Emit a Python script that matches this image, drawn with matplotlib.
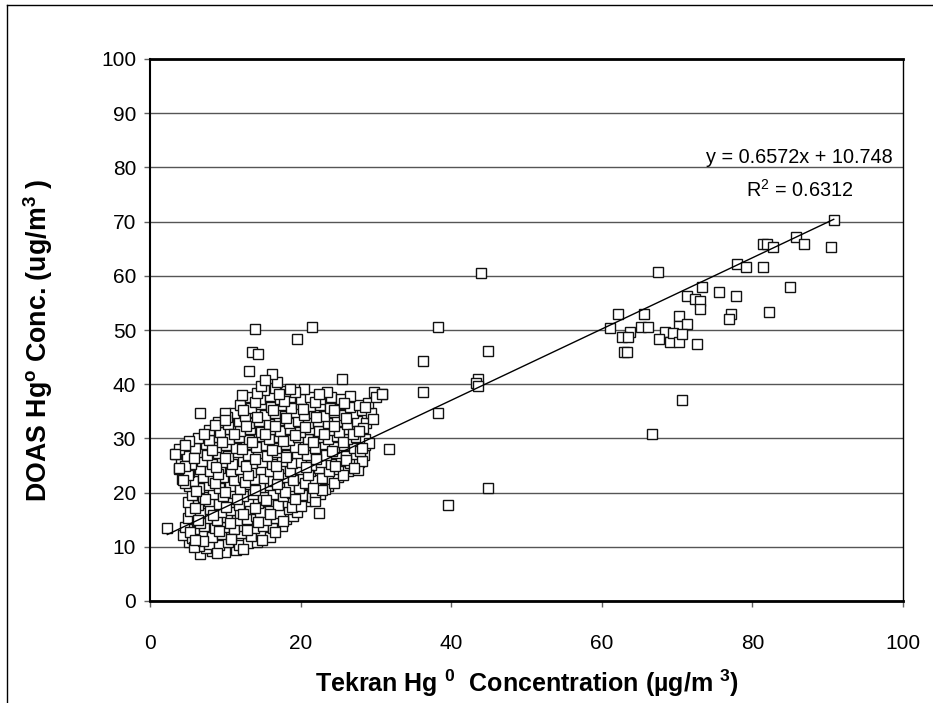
import matplotlib
matplotlib.use("Agg")
import matplotlib.pyplot as plt
from matplotlib.lines import Line2D

plt.rcParams['font.family'] = ['Liberation Sans', 'DejaVu Sans']
plt.rcParams['mathtext.default'] = 'regular'

# ---------------- data ----------------
# dense low-concentration cluster (Tekran x, DOAS y)
cluster_pts = [
    (6.6, 8.7), (8.2, 9.3), (9.9, 9.0), (11.4, 9.5), (7.4, 9.8),
    (5.2, 10.8), (6.5, 10.2), (7.8, 10.6), (9.1, 10.3), (10.4, 10.9), (11.8, 10.4), (13.0, 10.7), (14.2, 10.9),
    (4.4, 12.1), (5.6, 11.7), (6.9, 12.4), (8.3, 11.8), (9.5, 12.3), (10.8, 11.9), (12.1, 12.5), (13.4, 12.0),
    (14.7, 12.3), (15.9, 11.8),
    (4.6, 13.6), (5.9, 13.2), (7.2, 13.9), (8.6, 13.4), (9.8, 13.7), (11.1, 13.3), (12.5, 13.9), (13.8, 13.5),
    (15.0, 13.8), (16.3, 13.4), (17.5, 13.9),
    (5.0, 15.3), (6.3, 14.8), (7.6, 15.4), (8.9, 15.0), (10.2, 15.5), (11.6, 14.9), (12.9, 15.2), (14.1, 15.6),
    (15.4, 15.0), (16.7, 15.4), (18.0, 15.1), (19.0, 15.6),
    (5.3, 16.6), (6.7, 16.2), (8.0, 16.9), (9.4, 16.4), (10.7, 16.8), (12.0, 16.3), (13.3, 16.9), (14.6, 16.5),
    (15.9, 16.8), (17.2, 16.3), (18.5, 16.9), (19.5, 16.4),
    (5.1, 18.2), (6.4, 17.8), (7.8, 18.4), (9.1, 17.9), (10.5, 18.3), (11.8, 17.7), (13.1, 18.5), (14.4, 18.0),
    (15.7, 18.4), (17.0, 17.8), (18.3, 18.3), (19.6, 18.0), (20.8, 18.5),
    (5.6, 19.6), (7.0, 19.2), (8.4, 19.8), (9.7, 19.3), (11.0, 19.9), (12.4, 19.4), (13.7, 19.7), (15.0, 19.2),
    (16.3, 19.8), (17.6, 19.3), (18.9, 19.9), (20.2, 19.5), (21.5, 19.2), (22.6, 19.7),
    (5.2, 21.2), (6.5, 20.8), (7.9, 21.4), (9.2, 20.9), (10.6, 21.3), (11.9, 20.7), (13.3, 21.5), (14.6, 21.0),
    (15.9, 21.4), (17.2, 20.8), (18.5, 21.3), (19.8, 20.9), (21.1, 21.5), (22.4, 21.0), (23.6, 21.3),
    (4.3, 22.6), (5.7, 22.2), (7.0, 22.9), (8.4, 22.4), (9.7, 22.8), (11.1, 22.3), (12.4, 22.9), (13.8, 22.5),
    (15.1, 22.7), (16.4, 22.2), (17.7, 22.8), (19.0, 22.4), (20.3, 22.9), (21.6, 22.3), (22.9, 22.7),
    (24.2, 22.4), (25.0, 22.9),
    (3.9, 24.3), (5.2, 23.8), (6.6, 24.4), (8.0, 23.9), (9.3, 24.5), (10.7, 24.0), (12.0, 24.4), (13.4, 23.8),
    (14.7, 24.3), (16.0, 24.0), (17.3, 24.5), (18.6, 23.9), (19.9, 24.4), (21.2, 24.0), (22.5, 24.5),
    (23.8, 23.9), (25.1, 24.3), (26.3, 24.0), (27.1, 24.5),
    (4.1, 25.6), (5.5, 25.2), (6.9, 25.8), (8.2, 25.3), (9.6, 25.7), (10.9, 25.2), (12.3, 25.8), (13.6, 25.4),
    (14.9, 25.7), (16.2, 25.2), (17.5, 25.8), (18.8, 25.4), (20.1, 25.6), (21.4, 25.1), (22.7, 25.7),
    (24.0, 25.3), (25.3, 25.8), (26.6, 25.4), (27.8, 25.6),
    (3.5, 27.2), (4.9, 26.8), (6.3, 27.4), (7.6, 26.9), (9.0, 27.3), (10.3, 26.8), (11.7, 27.4), (13.0, 27.0),
    (14.3, 27.3), (15.6, 26.8), (16.9, 27.4), (18.2, 27.0), (19.5, 27.3), (20.8, 26.9), (22.1, 27.4),
    (23.4, 26.9), (24.7, 27.3), (26.0, 26.8), (27.3, 27.2), (28.4, 26.9),
    (4.6, 28.7), (6.0, 28.3), (7.4, 28.9), (8.7, 28.4), (10.1, 28.8), (11.4, 28.2), (12.8, 28.9), (14.1, 28.5),
    (15.4, 28.7), (16.7, 28.3), (18.0, 28.9), (19.3, 28.5), (20.6, 28.8), (21.9, 28.3), (23.2, 28.9),
    (24.5, 28.4), (25.8, 28.7), (27.1, 28.3), (28.6, 28.8),
    (6.4, 30.1), (7.8, 29.7), (9.1, 30.3), (10.5, 29.8), (11.8, 30.2), (13.2, 29.7), (14.5, 30.4), (15.8, 29.9),
    (17.1, 30.2), (18.4, 29.7), (19.7, 30.3), (21.0, 29.9), (22.3, 30.2), (23.6, 29.8), (24.9, 30.4),
    (26.2, 29.9), (27.4, 30.2), (28.5, 29.8),
    (7.9, 31.6), (9.3, 31.2), (10.6, 31.8), (12.0, 31.3), (13.3, 31.7), (14.7, 31.2), (16.0, 31.8), (17.3, 31.4),
    (18.6, 31.7), (19.9, 31.2), (21.2, 31.8), (22.5, 31.3), (23.8, 31.6), (25.1, 31.2), (26.4, 31.7), (27.7, 31.3),
    (9.0, 33.1), (10.4, 32.7), (11.8, 33.3), (13.1, 32.8), (14.5, 33.2), (15.8, 32.7), (17.1, 33.4), (18.4, 32.9),
    (19.7, 33.2), (21.0, 32.8), (22.3, 33.3), (23.6, 32.8), (24.9, 33.2), (26.2, 32.7), (27.5, 33.3), (28.7, 32.9),
    (11.2, 34.6), (12.6, 34.2), (13.9, 34.8), (15.3, 34.3), (16.6, 34.7), (17.9, 34.2), (19.2, 34.8), (20.5, 34.4),
    (21.8, 34.7), (23.1, 34.2), (24.4, 34.8), (25.7, 34.3), (27.0, 34.6), (28.2, 35.2), (29.3, 34.7),
    (12.0, 36.1), (13.4, 35.7), (14.7, 36.3), (16.1, 35.8), (17.4, 36.2), (18.7, 35.7), (20.0, 36.3), (21.3, 35.9),
    (22.6, 36.2), (23.9, 35.7), (25.2, 36.3), (26.5, 35.8), (27.7, 36.2), (29.0, 36.5),
    (13.3, 37.6), (14.6, 37.2), (16.0, 37.8), (17.3, 37.3), (18.6, 37.7), (20.0, 37.2), (21.3, 37.7), (22.6, 37.3),
    (24.0, 37.6), (25.3, 37.2), (26.5, 37.8),
    (15.2, 38.9), (16.6, 39.3), (18.0, 38.8), (20.4, 39.2),
]

# further overlapping points inside the same cluster
cluster_fill_pts = [
    (5.8, 9.9), (8.9, 8.9), (12.3, 9.6), (10.7, 11.4), (7.1, 11.1), (14.9, 11.2), (16.6, 12.8), (12.9, 13.1),
    (9.2, 12.9), (5.3, 12.8), (6.6, 14.3), (10.6, 14.4), (14.4, 14.6), (17.7, 14.7), (8.4, 15.9), (12.3, 16.1),
    (16.0, 16.0), (18.9, 17.3), (6.0, 17.2), (10.1, 17.4), (14.0, 17.2), (20.1, 17.6), (7.3, 18.9), (11.6, 18.8),
    (15.4, 18.7), (19.2, 18.8), (21.9, 18.4), (6.1, 20.3), (9.9, 20.2), (13.9, 20.4), (17.9, 20.1), (21.9, 20.2),
    (23.2, 20.6), (4.7, 21.7), (8.6, 21.8), (12.6, 21.9), (16.8, 21.6), (20.6, 21.8), (24.4, 21.7), (5.1, 23.2),
    (9.0, 23.4), (13.0, 23.2), (17.0, 23.5), (21.0, 23.3), (25.6, 23.2), (4.6, 24.9), (8.7, 24.8), (12.8, 24.9),
    (16.7, 25.0), (20.7, 24.8), (24.6, 24.9), (27.6, 24.1), (5.9, 26.3), (10.0, 26.4), (14.0, 26.2), (18.0, 26.5),
    (22.0, 26.2), (26.0, 26.1), (28.1, 25.9), (3.9, 28.0), (8.2, 27.9), (12.2, 28.0), (16.2, 27.8), (20.3, 28.0),
    (24.2, 27.7), (27.9, 27.6), (5.2, 29.5), (9.6, 29.4), (13.6, 29.3), (17.7, 29.6), (21.6, 29.4), (25.6, 29.3),
    (29.1, 29.2), (7.2, 30.9), (11.2, 30.8), (15.3, 30.9), (19.3, 30.7), (23.1, 30.9), (27.0, 30.8), (8.6, 32.4),
    (12.7, 32.2), (16.6, 32.3), (20.6, 32.1), (24.4, 32.3), (28.3, 31.9), (10.2, 34.0), (14.2, 33.9), (18.1, 33.8),
    (22.1, 34.0), (26.0, 33.7), (29.6, 33.6), (12.4, 35.3), (16.4, 35.2), (20.3, 35.4), (24.4, 35.2), (28.5, 35.8),
    (13.9, 36.8), (17.8, 36.9), (21.9, 36.7), (25.8, 36.6), (14.2, 38.4), (17.1, 38.1), (19.3, 38.5), (23.5, 38.6),
    (16.8, 40.4), (14.7, 39.6), (12.2, 38.0),
]

# scattered points around the low cluster
cluster_edge_pts = [
    (13.9, 50.1), (21.5, 50.6), (19.5, 48.3), (13.6, 46.0), (14.3, 45.6), (13.2, 42.4), (16.2, 41.9),
    (15.3, 40.8), (25.5, 41.0), (18.6, 39.1), (22.5, 38.2), (6.7, 34.6), (10.0, 34.6), (10.0, 33.4),
    (31.7, 28.1), (2.3, 13.5), (22.5, 16.3), (3.3, 27.2), (4.6, 28.7), (3.8, 24.5), (29.7, 38.6),
    (30.8, 38.2), (30.0, 37.7), (27.8, 31.4), (28.1, 28.2), (27.1, 24.5), (22.8, 20.4), (21.6, 20.8),
    (4.4, 22.3), (6.4, 14.9), (6.0, 11.3),
]

# mid-range points
mid_pts = [
    (44.0, 60.6), (38.3, 50.6), (44.9, 46.1), (36.3, 44.2), (43.6, 41.0), (43.3, 40.2), (43.6, 39.6),
    (36.3, 38.6), (38.3, 34.6), (30.8, 38.1), (44.9, 20.8), (39.6, 17.7),
]

# high-concentration points
high_pts = [
    (90.8, 70.3), (85.8, 67.2), (86.8, 65.8), (90.4, 65.3), (81.4, 65.8), (81.9, 65.8), (82.8, 65.3),
    (77.9, 62.2), (79.2, 61.6), (81.4, 61.6), (67.4, 60.7), (73.3, 58.0), (75.6, 57.1), (85.0, 58.0),
    (77.8, 56.2), (71.3, 56.3), (72.4, 55.7), (73.1, 55.4), (73.0, 53.8), (82.2, 53.4), (77.2, 53.0),
    (76.9, 52.0), (62.1, 53.0), (65.6, 53.0), (70.3, 52.5), (61.1, 50.3), (65.2, 50.6), (66.1, 50.6),
    (63.7, 49.7), (62.7, 48.8), (63.5, 48.8), (70.2, 50.8), (71.3, 51.1), (68.4, 49.7), (67.6, 48.3),
    (69.0, 47.8), (69.4, 49.4), (70.3, 47.8), (70.6, 49.3), (72.6, 47.4), (62.9, 46.0), (63.4, 46.0),
    (70.6, 37.1), (66.7, 30.9),
]

# trend line reported on the chart
slope = 0.6572
intercept = 10.748
r_squared = 0.6312

x_ticks = [0, 20, 40, 60, 80, 100]
y_ticks = [0, 10, 20, 30, 40, 50, 60, 70, 80, 90, 100]

# ---------------- figure ----------------
W, H = 933, 703
fig = plt.figure(figsize=(W / 100, H / 100), dpi=100)
fig.patch.set_facecolor('white')

# outer frame lines (left and top, as in the picture)
fig.add_artist(Line2D([7 / W, 7 / W], [0, 1 - 5 / H], color='black', lw=1.0, transform=fig.transFigure))
fig.add_artist(Line2D([7 / W, 1], [1 - 5 / H, 1 - 5 / H], color='black', lw=1.0, transform=fig.transFigure))

ax = fig.add_axes([150 / W, 1 - 601 / H, 753 / W, 542 / H])
ax.set_xlim(0, 100)
ax.set_ylim(0, 100)
ax.set_xticks(x_ticks)
ax.set_yticks(y_ticks)
ax.set_axisbelow(True)
ax.yaxis.grid(True, color='#555555', lw=1.0)
ax.xaxis.grid(False)

ax.spines['top'].set_linewidth(2.0)
ax.spines['bottom'].set_linewidth(2.0)
ax.spines['left'].set_linewidth(1.5)
ax.spines['right'].set_linewidth(1.0)
for s in ax.spines.values():
    s.set_color('black')

ax.tick_params(axis='x', direction='out', length=4, width=1, color='#606060',
               labelsize=15, pad=20)
ax.tick_params(axis='y', direction='out', length=4, width=1, color='#606060',
               labelsize=15, pad=6)

all_groups = [cluster_pts, cluster_fill_pts, cluster_edge_pts, mid_pts, high_pts]
for grp in all_groups:
    xs = [p[0] for p in grp]
    ys = [p[1] for p in grp]
    ax.plot(xs, ys, linestyle='none', marker='s', ms=6.8, mew=1.0,
            mfc='white', mec='#111111', zorder=3, clip_on=False)

all_x = [p[0] for grp in all_groups for p in grp]
x0, x1 = min(all_x), max(all_x)
ax.plot([x0, x1], [slope * x0 + intercept, slope * x1 + intercept],
        color='black', lw=1.0, zorder=4)

ax.text(98.7, 81.9, f'y = {slope}x + {intercept}', ha='right', va='center', fontsize=14.3)
ax.text(93.4, 75.8, r'R$^{2}$' + f' = {r_squared}', ha='right', va='center', fontsize=14.3)

fig.text(527 / W, 1 - 683 / H, r'Tekran Hg $^{0}$  Concentration (µg/m $^{3}$)',
         ha='center', va='center', fontsize=18, fontweight='bold')
fig.text(38 / W, 1 - 340 / H, r'DOAS Hg$^{o}$ Conc. (ug/m$^{3}$ )',
         ha='center', va='center', rotation=90, fontsize=19.3, fontweight='bold')

fig.savefig('out.png', dpi=100)
